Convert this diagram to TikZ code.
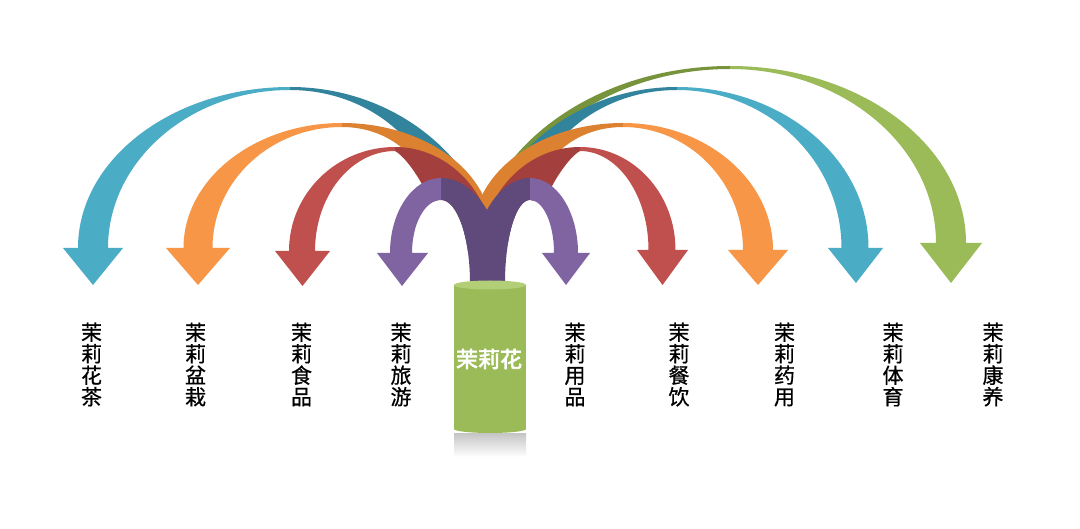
\documentclass[tikz,border=0pt]{standalone}
\usepackage{fontspec}
\newfontfamily\cjk[FakeBold=0.7]{Noto Sans CJK SC}
\newfontfamily\cjkbold[FakeBold=3]{Noto Sans CJK SC}
\definecolor{bluel}{HTML}{4BACC6}
\definecolor{blued}{HTML}{31849B}
\definecolor{orangel}{HTML}{F79646}
\definecolor{oranged}{HTML}{DB8130}
\definecolor{redl}{HTML}{C0504D}
\definecolor{redd}{HTML}{A33F3C}
\definecolor{purplel}{HTML}{8064A2}
\definecolor{purpled}{HTML}{604A7B}
\definecolor{greenl}{HTML}{9BBB59}
\definecolor{greend}{HTML}{77933C}
\definecolor{cylbody}{HTML}{9BBB59}
\definecolor{cyltop}{HTML}{B2CE76}
\tikzset{
  lab/.style={font=\cjk\fontsize{21}{21.5}\selectfont, align=center, inner sep=0pt, text=black},
  core/.style={font=\cjkbold\fontsize{22}{22}\selectfont, text=white, inner sep=0pt}
}
\begin{document}
\begin{tikzpicture}[x=1pt,y=-1pt]
\useasboundingbox (0,0) rectangle (1080,529);
\fill[white] (0,0) rectangle (1080,529);

% ---- green (right, outermost)
\fill[greend] (730,66) .. controls (587.5,66) and (472,156.4) .. (472,268) -- (485,274) .. controls (485,161) and (595,69) .. (730,69) -- cycle;
\fill[greenl] (730,66) .. controls (860,66) and (966,145) .. (966,243) -- (982,243) -- (951,283) -- (920,243) -- (936,243) .. controls (936,147) and (843.8,69) .. (730,69) -- cycle;

% ---- blue left
\fill[blued] (290,87) .. controls (406,87) and (500,174) .. (500,282) -- (440,225) .. controls (440,150) and (373,90) .. (290,90) -- cycle;
\fill[bluel] (290,87) .. controls (173,87) and (78,159) .. (78,248) -- (63,248) -- (93,285) -- (123,248) -- (108,248) .. controls (108,161) and (189.5,90) .. (290,90) -- cycle;

% ---- blue right
\fill[blued] (677,87) .. controls (564,87) and (472,174) .. (472,282) -- (527,225) .. controls (527,150.5) and (594,90) .. (677,90) -- cycle;
\fill[bluel] (677,87) .. controls (782.8,87) and (868.5,159) .. (868.5,248) -- (883,248) -- (856,283) -- (828,248) -- (841.5,248) .. controls (841.5,160.7) and (767.9,90) .. (677,90) -- cycle;

% ---- orange left
\fill[oranged] (342,123) .. controls (425,123) and (492,172) .. (492,233) -- (427,199) .. controls (427,159) and (389,127) .. (342,127) -- cycle;
\fill[orangel] (342,123) .. controls (254.5,123) and (183.5,179) .. (183.5,248) -- (166,248) -- (198,285) -- (230,248) -- (212.5,248) .. controls (212.5,181) and (270.5,127) .. (342,127) -- cycle;

% ---- orange right
\fill[oranged] (623,123) .. controls (540,123) and (473,172) .. (473,233) -- (538,199) .. controls (538,159) and (576,127) .. (623,127) -- cycle;
\fill[orangel] (623,123) .. controls (705.8,123) and (773,180) .. (773,250) -- (788,250) -- (758,285) -- (728,250) -- (743,250) .. controls (743,182) and (689,127) .. (623,127) -- cycle;

% ---- red left
\fill[redd] (395,147) .. controls (450,147) and (495,196) .. (495,257) -- (425,190) .. controls (414,168) and (401,154) .. (395,151) -- cycle;
\fill[redl] (395,147) .. controls (336.5,147) and (289,193.6) .. (289,251) -- (275,251) -- (302.5,286) -- (330,251) -- (315,251) .. controls (315,196) and (351,151) .. (395,151) -- cycle;

% ---- red right
\fill[redd] (580,147) .. controls (525,147) and (480,196) .. (480,257) -- (550,190) .. controls (561,168) and (574,154) .. (580,151) -- cycle;
\fill[redl] (580,147) .. controls (632.7,147) and (675.5,193) .. (675.5,250) -- (688,250) -- (662.5,285) -- (637,250) -- (648.5,250) .. controls (648.5,195.3) and (617.8,151) .. (580,151) -- cycle;

% ---- clear the openings under the purple branches
\fill[white] (441,200) .. controls (425,200) and (412,223.7) .. (412,253) -- (412,284) -- (470,284) -- (470,283) .. controls (470,237) and (457,200) .. (441,200) -- cycle;
\fill[white] (530,200) .. controls (543.3,200) and (554,223.7) .. (554,253) -- (554,284) -- (505,284) -- (505,283) .. controls (505,237) and (516.2,200) .. (530,200) -- cycle;

% ---- purple trunk and branches
\fill[purpled] (470,240) rectangle (505,290);
\fill[purpled] (441,178) .. controls (476.3,178) and (505,225) .. (505,283) -- (470,283) .. controls (470,237) and (457,200) .. (441,200) -- cycle;
\fill[purpled] (530,178) .. controls (497,178) and (470,225) .. (470,283) -- (505,283) .. controls (505,237) and (516.2,200) .. (530,200) -- cycle;
\fill[purplel] (441,178) .. controls (412.8,178) and (390,211.6) .. (390,253) -- (377,253) -- (402,286) -- (428,253) -- (412,253) .. controls (412,223.7) and (425,200) .. (441,200) -- cycle;
\fill[purplel] (530,178) .. controls (556.5,178) and (578,211.6) .. (578,253) -- (590,253) -- (566,285) -- (542,253) -- (554,253) .. controls (554,223.7) and (543.3,200) .. (530,200) -- cycle;

% ---- cylinder
\shade[top color=black!22, bottom color=white] (454,434) rectangle (526,457);
\fill[cylbody] (454,285) rectangle (526,429);
\fill[cylbody] (490,429) ellipse [x radius=36, y radius=4];
\fill[cyltop] (490,285) ellipse [x radius=36, y radius=4.5];
\node[core] (center) at (489,359) {茉莉花};

% ---- labels
\node[lab] (l1) at (91.5,364.5) {茉\\莉\\花\\茶};
\node[lab] (l2) at (195.5,364.5) {茉\\莉\\盆\\栽};
\node[lab] (l3) at (301.5,364.5) {茉\\莉\\食\\品};
\node[lab] (l4) at (401,364.5) {茉\\莉\\旅\\游};
\node[lab] (l5) at (575,364.5) {茉\\莉\\用\\品};
\node[lab] (l6) at (679,364.5) {茉\\莉\\餐\\饮};
\node[lab] (l7) at (784.5,364.5) {茉\\莉\\药\\用};
\node[lab] (l8) at (893,364.5) {茉\\莉\\体\\育};
\node[lab] (l9) at (993,364.5) {茉\\莉\\康\\养};
\end{tikzpicture}
\end{document}
